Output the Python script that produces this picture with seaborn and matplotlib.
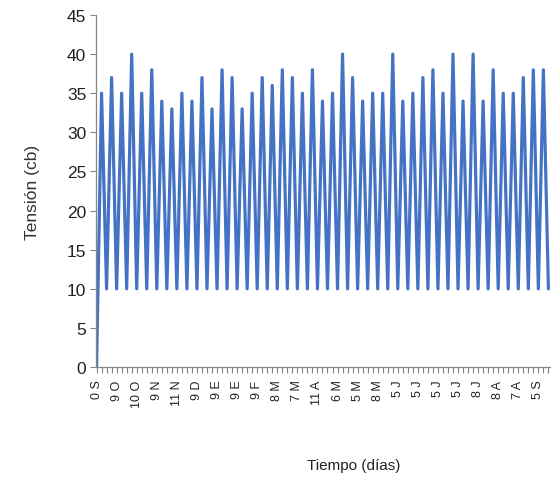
import numpy as np
import pandas as pd
import matplotlib
matplotlib.use("Agg")
import matplotlib.pyplot as plt
import seaborn as sns

# Tension readings (cb), one value per point in time
tension = [0,
           35, 10, 37, 10, 35, 10, 40, 10, 35, 10, 38, 10, 34, 10, 33, 10,
           35, 10, 34, 10, 37, 10, 33, 10, 38, 10, 37, 10, 33, 10, 35, 10,
           37, 10, 36, 10, 38, 10, 37, 10, 35, 10, 38, 10, 34, 10, 35, 10,
           40, 10, 37, 10, 34, 10, 35, 10, 35, 10, 40, 10, 34, 10, 35, 10,
           37, 10, 38, 10, 35, 10, 40, 10, 34, 10, 40, 10, 34, 10, 38, 10,
           35, 10, 35, 10, 37, 10, 38, 10, 38, 10]

# Date labels (day + month initial) shown every 4th point
date_labels = ["0 S", "9 O", "10 O", "9 N", "11 N", "9 D", "9 E", "9 E",
               "9 F", "8 M", "7 M", "11 A", "6 M", "5 M", "8 M", "5 J",
               "5 J", "5 J", "5 J", "8 J", "8 A", "7 A", "5 S"]

y_ticks = [0, 5, 10, 15, 20, 25, 30, 35, 40, 45]

df = pd.DataFrame({"idx": np.arange(len(tension)), "tension": tension})

sns.set_style("ticks")
plt.rcParams['font.family'] = ['Liberation Sans', 'DejaVu Sans']
narrow = ['Liberation Sans Narrow', 'Liberation Sans']

fig = plt.figure(figsize=(5.51, 4.89), dpi=100)
ax = fig.add_axes([0.1743, 0.2474, 0.8237, 0.7198])

sns.lineplot(data=df, x="idx", y="tension", ax=ax, color="#4472C4",
             linewidth=2.3)

ax.set_xlim(-0.1, 90.3)
ax.set_ylim(0, 45)

# y axis
ax.set_yticks(y_ticks)
ax.set_yticklabels([str(v) for v in y_ticks], family=narrow,
                   fontsize=12.5, color="#222222")
ax.tick_params(axis="y", length=4, width=0.8, color="#868686", pad=3)

# x axis: minor tick every point, labels every 4th point
ax.set_xticks(np.arange(0, len(date_labels) * 4, 4))
ax.set_xticklabels(date_labels, rotation=90, fontsize=9, color="#222222")
ax.set_xticks(np.arange(0, len(tension)), minor=True)
ax.tick_params(axis="x", which="both", length=4, width=0.8,
               color="#868686", pad=5)

for s in ["top", "right"]:
    ax.spines[s].set_visible(False)
for s in ["left", "bottom"]:
    ax.spines[s].set_color("#868686")
    ax.spines[s].set_linewidth(0.9)

ax.set_ylabel("Tensión (cb)", fontsize=12.5, color="#333333")
ax.yaxis.set_label_coords(-0.124, 0.5)
ax.set_xlabel("Tiempo (días)", fontsize=11, color="#222222", family=narrow)
ax.xaxis.set_label_coords(0.567, -0.258)

fig.savefig("out.png", dpi=100)
